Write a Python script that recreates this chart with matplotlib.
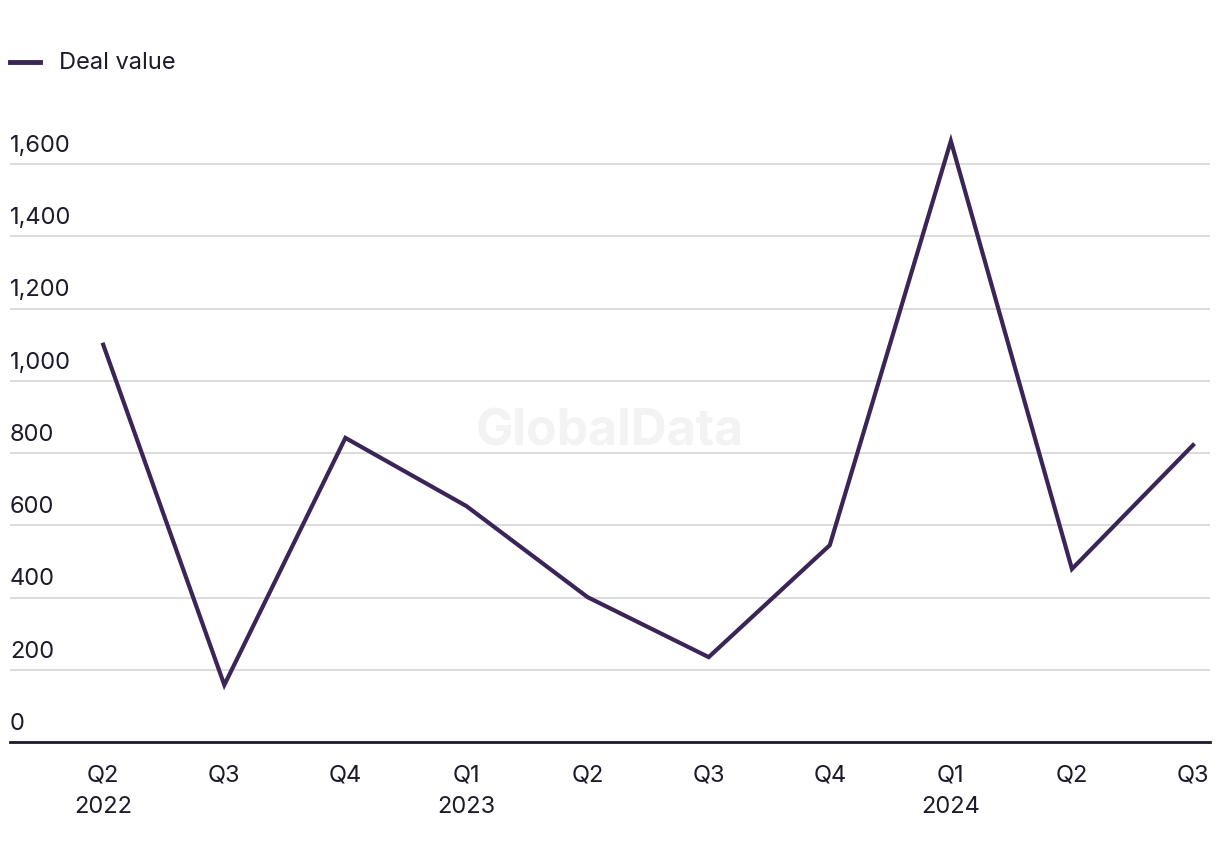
import matplotlib
matplotlib.use('Agg')
import matplotlib.pyplot as plt
from matplotlib.transforms import blended_transform_factory

quarters = ["Q2", "Q3", "Q4", "Q1", "Q2", "Q3", "Q4", "Q1", "Q2", "Q3"]
years = ["2022", "", "", "2023", "", "", "", "2024", "", ""]
deal_value = [1100, 158, 842, 653, 401, 235, 545, 1664, 479, 822]
y_ticks = [0, 200, 400, 600, 800, 1000, 1200, 1400, 1600]

LINE = "#3b2458"
TEXT = "#1c1a2b"
GRID = "#d9d9d9"

plt.rcParams['font.family'] = ['Inter', 'DejaVu Sans']

fig = plt.figure(figsize=(12.2, 8.64), dpi=100)
ax = fig.add_axes([10 / 1220, 122 / 864, 1200 / 1220, (742 - 128) / 864])

x = list(range(len(deal_value)))
ax.plot(x, deal_value, color=LINE, linewidth=3, solid_joinstyle='miter', zorder=3)

ax.set_xlim(-0.77, 9.14)
ax.set_ylim(0, 1700)

for s in ["top", "right", "left"]:
    ax.spines[s].set_visible(False)
ax.spines["bottom"].set_color(TEXT)
ax.spines["bottom"].set_linewidth(2)

ax.set_yticks(y_ticks)
ax.set_yticklabels([])
ax.tick_params(axis='y', length=0)
ax.grid(axis='y', color=GRID, linewidth=1.3, zorder=0)

trans = blended_transform_factory(ax.transAxes, ax.transData)
for v in y_ticks:
    ax.text(0, v + 20, f"{v:,}", transform=trans, ha='left', va='bottom',
            fontsize=17, color=TEXT)

ax.set_xticks(x)
ax.set_xticklabels([q + ("\n" + y if y else "") for q, y in zip(quarters, years)],
                   fontsize=17, color=TEXT, linespacing=1.55, va='top')
ax.tick_params(axis='x', length=0, pad=16)

# watermark
ax.text(0.5, 0.505, "GlobalData", transform=ax.transAxes, ha='center', va='center',
        fontsize=36, fontweight='bold', color="#f3f3f3", zorder=1)

# legend
fig.add_artist(plt.Line2D([10 / 1220, 40 / 1220], [1 - 62 / 864] * 2,
                          color=LINE, linewidth=3.5, transform=fig.transFigure))
fig.text(59 / 1220, 1 - 63 / 864, "Deal value", ha='left', va='center',
         fontsize=17, color=TEXT)

fig.savefig("out.png", dpi=100)
